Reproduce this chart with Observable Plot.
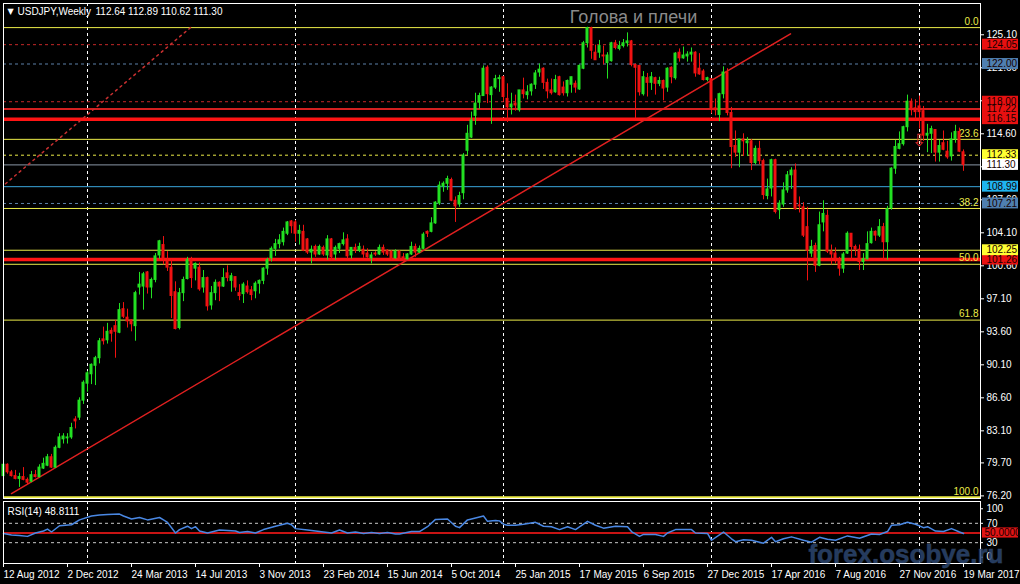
<!DOCTYPE html>
<html><head><meta charset="utf-8">
<script src="https://cdn.jsdelivr.net/npm/d3@7"></script>
<script src="https://cdn.jsdelivr.net/npm/@observablehq/plot@0.6"></script>
<style>
html,body{margin:0;padding:0;background:#000;}
#chart{width:1020px;height:584px;background:#000;overflow:hidden;}
#chart svg{display:block;}
</style></head><body><div id="chart"></div>
<script>
// ---------- DATA (weekly USDJPY bars, week 0 = 12 Aug 2012) ----------
const opens = [
 78.3,79.5,78.7,78.3,78.0,78.2,77.9,77.7,78.4,78.2,79.1,79.4,80.3,79.2,81.3,82.2,82.3,82.4,84.3,84.5,86.3,
 88.1,89.1,90.0,90.8,92.8,92.7,93.7,94.2,93.5,96.0,95.1,94.8,94.2,98.3,98.4,99.9,98.3,99.1,101.7,102.8,101.0,100.4,97.8,94.0,97.7,99.2,101.2,100.3,100.4,98.3,99.3,96.4,97.7,98.8,98.4,99.8,99.0,99.4,97.7,97.6,98.4,98.0,97.9,98.7,99.0,100.3,101.4,102.4,102.9,103.1,104.0,105.3,
 105.2,104.0,104.2,103.4,102.0,102.6,101.8,102.5,101.7,103.4,101.8,102.4,102.9,103.4,101.7,102.5,102.2,102.3,101.9,101.4,101.9,101.8,102.5,102.2,102.1,101.4,102.1,101.5,101.3,101.8,102.6,102.0,102.4,104.2,104.2,105.1,107.2,109.0,109.3,109.7,107.5,107.1,108.3,112.8,114.2,116.5,117.9,118.6,121.6,118.7,119.5,120.4,
 120.6,118.3,117.4,117.8,117.1,119.2,118.7,119.1,119.8,121.1,121.5,120.0,119.2,119.0,120.6,119.5,118.9,119.8,119.9,119.3,121.5,124.2,125.8,123.2,123.2,122.9,122.1,122.3,124.2,123.6,123.9,124.2,124.4,121.9,121.8,118.8,120.5,120.0,120.5,119.9,120.2,119.5,121.6,120.5,123.2,122.6,122.8,123.0,123.2,121.5,121.2,120.3,
 120.4,117.3,116.6,118.8,121.1,116.8,113.3,112.6,114.0,113.6,113.8,111.5,113.0,111.7,108.0,108.8,111.8,106.5,107.1,108.6,110.2,110.7,107.0,106.8,104.7,101.9,102.7,100.6,105.2,105.9,102.1,101.9,101.3,100.3,101.9,104.0,102.6,102.3,101.0,101.3,103.0,104.2,103.8,104.7,103.1,106.7,110.9,113.0,113.5,115.3,118.0,117.3,
 117.5,117.0,114.4,114.6,115.0,112.6,113.6,112.7,112.2,114.0,114.8,112.64
];
const highs = [
 79.6,79.6,78.9,78.9,78.6,79.2,78.1,78.8,78.9,79.5,80.2,80.6,80.6,81.5,82.8,82.8,82.8,83.9,84.6,86.6,88.4,
 89.4,90.2,91.0,92.9,94.1,94.5,94.0,94.8,96.6,96.7,96.0,94.9,97.9,99.9,99.9,100.0,99.3,101.9,103.3,103.7,102.1,101.2,98.9,98.2,99.4,101.5,101.5,100.9,100.9,100.1,99.4,98.4,99.1,98.9,100.3,100.6,99.8,99.4,98.6,98.8,99.0,98.4,98.9,99.1,100.4,101.4,102.6,103.4,103.9,104.6,105.3,105.4,
 105.4,104.9,104.9,103.5,102.7,102.8,102.8,102.7,103.8,103.5,102.7,103.0,104.1,103.9,102.5,102.9,103.0,102.7,102.4,102.0,102.1,102.8,102.8,102.3,102.2,102.3,102.2,101.9,101.9,103.1,102.9,102.7,104.1,104.3,105.7,107.4,109.5,109.5,110.1,109.9,107.9,108.4,112.5,115.5,116.9,118.9,118.9,121.8,121.8,119.6,120.8,120.8,
 120.7,119.9,118.9,118.7,119.2,120.5,119.7,119.9,121.3,122.0,121.6,120.4,120.4,120.8,120.7,120.1,120.3,120.6,120.2,121.9,124.4,125.9,125.9,124.0,124.5,123.9,123.2,124.3,124.5,124.4,124.6,125.3,124.5,122.0,121.8,121.2,121.0,121.1,120.6,120.6,120.3,121.6,121.7,123.2,123.6,123.8,123.3,123.7,123.3,123.1,121.4,120.6,
 120.4,118.3,118.9,121.7,121.5,117.4,114.9,114.0,114.6,114.2,114.0,113.3,113.8,111.9,109.8,111.9,111.9,107.5,109.4,110.6,111.0,111.4,107.9,107.3,106.8,103.3,103.0,106.3,107.5,106.5,102.8,102.5,101.5,102.0,104.2,104.0,102.8,102.8,101.9,104.2,104.6,104.3,105.5,105.1,106.9,111.0,113.9,114.8,115.4,118.7,118.3,118.2,
 118.6,117.5,115.6,115.4,115.0,113.9,114.9,113.8,114.7,115.5,115.2,112.89
];
const lows = [
 78.1,78.5,78.2,77.9,77.1,77.8,77.4,77.6,78.1,78.1,79.0,79.3,79.1,79.1,81.2,81.7,81.7,82.2,83.3,84.2,85.9,
 87.2,88.0,87.9,90.2,92.2,92.3,92.5,90.8,93.4,95.0,94.0,93.6,92.6,97.5,95.9,97.6,97.1,98.8,101.3,100.7,100.0,95.0,93.8,93.8,96.8,99.1,98.2,99.0,97.9,97.7,95.8,95.9,96.9,96.8,98.3,98.9,97.8,97.9,96.9,96.6,97.6,96.9,97.1,97.6,98.6,99.6,101.0,101.6,102.4,102.7,103.8,104.0,
 103.1,102.8,102.1,101.8,100.8,101.5,101.7,101.6,101.2,101.2,101.2,101.9,102.7,101.3,101.3,101.9,102.0,101.4,101.4,100.8,101.6,101.7,101.7,101.6,101.2,101.3,101.1,101.0,101.2,101.7,101.5,101.9,102.3,103.6,104.1,105.0,107.0,108.4,108.6,107.4,105.2,106.8,107.6,112.3,114.1,115.5,117.2,118.6,117.8,115.6,119.3,119.0,
 118.0,115.8,116.6,117.0,116.9,118.3,118.2,118.6,119.3,120.6,119.3,118.3,118.7,118.9,118.6,118.6,118.5,118.9,118.9,119.2,121.4,123.7,122.5,122.4,122.6,121.9,120.4,122.2,123.5,123.4,123.7,123.8,121.7,116.2,118.6,118.6,118.5,119.2,118.7,119.6,118.1,119.0,119.9,120.3,122.2,122.5,122.2,122.2,120.6,120.8,120.2,120.1,
 116.7,116.5,115.9,118.3,116.5,110.9,112.1,111.0,112.2,112.2,110.7,111.3,111.3,107.6,107.6,107.9,106.1,105.5,106.8,108.3,108.7,106.5,106.2,103.6,99.0,101.5,99.9,100.5,104.2,101.9,100.7,100.8,99.5,99.8,101.8,101.2,101.6,100.1,100.1,101.2,102.9,103.2,103.6,101.2,101.2,106.5,110.3,112.9,113.3,114.8,116.5,116.0,
 115.1,113.8,112.6,112.5,111.6,111.6,112.8,111.9,111.7,113.6,112.6,110.62
];
const closes = [
 79.5,78.7,78.3,78.0,78.2,77.9,77.6,78.4,78.2,79.2,79.6,80.3,79.2,81.3,82.4,82.5,82.4,83.4,84.1,86.3,88.2,
 89.2,90.1,90.8,92.6,92.6,93.6,93.4,93.6,95.9,95.2,94.7,94.4,97.7,98.6,99.7,98.3,99.1,101.6,103.2,101.4,100.4,97.4,93.9,97.7,99.1,101.2,99.3,100.8,98.1,99.3,96.3,97.7,98.8,98.4,99.3,99.3,99.5,98.3,97.4,98.6,97.8,97.5,98.7,99.0,100.3,101.2,102.4,102.9,103.3,104.2,105.2,104.8,
 104.0,104.3,102.2,102.0,102.3,101.8,102.6,101.8,103.4,101.5,102.5,102.9,103.3,101.6,102.5,102.2,102.6,101.8,101.5,101.7,101.8,102.5,102.0,101.8,101.4,102.1,101.3,101.3,101.8,102.6,102.0,102.4,103.9,104.0,105.1,107.3,109.1,109.3,109.8,107.5,106.9,108.0,112.3,114.6,116.0,117.8,118.6,121.5,118.8,119.5,120.4,120.5,
 118.5,117.4,117.7,117.6,119.2,118.8,119.0,119.8,121.0,121.4,120.0,119.1,118.9,120.3,118.7,118.9,120.2,120.6,119.5,121.8,124.2,125.8,123.4,122.4,123.9,122.8,122.9,124.2,123.7,123.9,124.2,124.4,121.9,121.6,119.0,120.6,120.0,120.6,119.9,120.2,119.4,121.5,120.6,123.1,122.6,122.9,123.0,123.2,121.0,120.9,120.3,120.5,
 117.2,117.1,118.8,121.1,116.8,113.2,112.6,114.0,113.8,113.8,111.5,113.0,111.7,108.1,108.7,111.8,106.3,107.2,108.6,110.2,110.7,106.6,106.9,103.8,102.2,102.6,100.6,104.9,106.1,102.1,101.8,101.3,100.3,101.8,104.0,102.6,102.3,101.0,101.3,102.9,104.2,103.8,104.7,103.1,106.6,110.9,113.2,113.5,115.3,118.0,117.1,116.9,
 116.9,114.4,114.6,115.1,112.6,113.3,112.9,112.1,114.0,114.8,112.7,111.30
];

// RSI(14) read at selected weeks
const rsiWeeks = [0,2,4,6,8,10,11,12,14,17,19,22,24,26,29,30,32,34,36,39,40,41,43,44,46,47,48,49,51,54,58,59,61,63,65,68,71,72,73,76,78,82,84,86,88,90,92,94,96,98,99,102,104,106,108,111,113,114,116,120,121,123,124,125,126,128,130,133,135,137,139,141,143,146,148,150,153,156,157,159,160,163,165,166,168,172,173,176,177,180,182,183,185,187,190,192,193,195,197,200,202,204,206,208,211,214,217,219,221,222,224,226,227,228,230,231,233,235,237,239,240];
const rsiValues = [49,46,45,43,50,54,58,52,65,67,77,85,87,88,89,85,79,82,77,82,77,72,50,57,64,59,63,54,50,56,54,51,53,50,57,64,70,67,59,56,54,50,56,50,52,49,51,49,51,48,48,53,53,63,78,79,64,61,77,85,74,76,75,68,66,66,68,72,64,63,57,63,57,74,66,60,64,63,53,43,47,47,43,50,57,57,50,49,35,52,38,32,36,35,29,41,32,38,42,35,31,41,37,35,44,39,48,47,53,66,67,72,70,68,61,63,54,53,59,52,48.8];

// x-axis ticks (week index) and their labels
const tickWeeks = [0,16,32,48,64,80,96,112,128,144,160,176,192,208,224,240];
const tickLabels = ["12 Aug 2012","2 Dec 2012","24 Mar 2013","14 Jul 2013","3 Nov 2013","23 Feb 2014","15 Jun 2014","5 Oct 2014","25 Jan 2015","17 May 2015","6 Sep 2015","27 Dec 2015","17 Apr 2016","7 Aug 2016","27 Nov 2016","19 Mar 2017"];
const yearWeeks = [21,73,125,177,229];

// price axis ticks
const priceTicks = [76.20,79.70,83.10,86.60,90.10,93.60,97.10,100.60,104.10,107.60,111.10,114.60,118.10,121.60,125.10];
const rsiTicks = [0,30,70,100];

// Fibonacci levels
const fibPrices = [125.86,114.01,106.68,100.76,94.84,76.05];
const fibLabels = ["0.0","23.6","38.2","50.0","61.8","100.0"];

// horizontal level lines
const redDashedPrices = [124.05,118.00];
const steelDashedPrices = [122.00,107.21];
const yellowDashedPrices = [112.33];
const yellowSolidPrices = [102.25];
const redThinPrices = [117.22];
const redThickPrices = [116.15,101.26];
const greyPrices = [111.30];
const bluePrices = [108.99];

// drawn trend lines (week, price)
const trendWeeks = [2,196.75];
const trendPrices = [76.45,125.2];
const rayWeeks = [0.5,46.75];
const rayPrices = [109.3,125.86];
const arrowWeek = 228.9, arrowPrice = 113.85;

// price labels on the right scale
const redBoxes = [124.05,118.00,117.22,116.15,101.26];
const steelBoxes = [122.00,107.21];
const yellowBoxes = [112.33,102.25];
const whiteBoxes = [111.30];
const blueBoxes = [108.99];

// ---------- STYLES ----------
const UP = "#22e022", DOWN = "#f01212", YEL = "#ecec48";
const FONT = "'Liberation Sans', Arial, sans-serif";
const candles = opens.map((o,i)=>({i, o, h: highs[i], l: lows[i], c: closes[i], col: closes[i] >= o ? UP : DOWN}));
const rsiRows = rsiWeeks.map((w,i)=>({w, v: rsiValues[i]}));
const trendRows = trendWeeks.map((w,i)=>({w, p: trendPrices[i]}));
const rayRows = rayWeeks.map((w,i)=>({w, p: rayPrices[i]}));
const boxRows = [
  ...redBoxes.map(p=>({p, bg:"#e81010"})),
  ...steelBoxes.map(p=>({p, bg:"#4f7fb0"})),
  ...yellowBoxes.map(p=>({p, bg:"#ffff33"})),
  ...whiteBoxes.map(p=>({p, bg:"#ffffff"})),
  ...blueBoxes.map(p=>({p, bg:"#1fb4f0"}))
];
const labelMap = new Map(tickWeeks.map((w,i)=>[w, tickLabels[i]]));
const XMAX = 244.25;                 // right edge of plotting area (x=980)
const BX1 = 244.75, BX2 = 253.75;    // right-scale label boxes (x=982..1018)
const dash = "3,3";

const main = Plot.plot({
  width: 1020, height: 500,
  marginTop: 3, marginBottom: 2, marginLeft: 3, marginRight: 40,
  style: {background: "#000", color: "#fff", fontFamily: FONT, fontSize: "9px", overflow: "visible"},
  x: {domain: [0, XMAX], axis: null},
  y: {domain: [75.924, 128.416], axis: null},
  marks: [
    Plot.ruleX(yearWeeks, {stroke: "#fff", strokeDasharray: dash}),
    Plot.ruleY(fibPrices.slice(0,5), {stroke: YEL}),
    Plot.ruleY(fibPrices.slice(5), {stroke: YEL, strokeWidth: 2}),
    Plot.ruleY(yellowSolidPrices, {stroke: YEL}),
    Plot.ruleY(yellowDashedPrices, {stroke: YEL, strokeDasharray: dash}),
    Plot.ruleY(redDashedPrices, {stroke: "#c42828", strokeDasharray: dash}),
    Plot.ruleY(steelDashedPrices, {stroke: "#5c80a8", strokeDasharray: dash}),
    Plot.ruleY(greyPrices, {stroke: "#8a97a6"}),
    Plot.ruleY(bluePrices, {stroke: "#3aa6dc"}),
    Plot.ruleY(redThinPrices, {stroke: "#d42020", strokeWidth: 2}),
    Plot.ruleY(redThickPrices, {stroke: "#ff1414", strokeWidth: 3.5}),
    Plot.text(fibPrices, {y: d=>d, text: (d,i)=>fibLabels[i], frameAnchor: "right", textAnchor: "end", dx: -2, dy: -6, fill: YEL, fontSize: 10}),
    Plot.line(rayRows, {x: "w", y: "p", stroke: "#c83030", strokeDasharray: "2,4"}),
    Plot.line(trendRows, {x: "w", y: "p", stroke: "#e02020"}),
    Plot.ruleX(candles, {x: "i", y1: "l", y2: "h", stroke: "col"}),
    Plot.rect(candles, {x1: d=>d.i-0.375, x2: d=>d.i+0.375, y1: "o", y2: "c", fill: "col", insetTop: -0.5, insetBottom: -0.5}),
    Plot.text([{w: arrowWeek, p: arrowPrice}], {x: "w", y: "p", text: ()=>"⇩", fill: "#e02a2a", fontSize: 17, fontFamily: "DejaVu Sans"}),
    Plot.axisY(priceTicks, {anchor: "right", label: null, tickSize: 3, tickPadding: 3, tickFormat: d=>d.toFixed(2), color: "#fff", fontSize: 10}),
    Plot.rect(boxRows, {x1: ()=>BX1, x2: ()=>BX2, y1: d=>d.p-0.58, y2: d=>d.p+0.58, fill: "bg"}),
    Plot.text(boxRows, {y: "p", text: d=>d.p.toFixed(2), frameAnchor: "right", textAnchor: "start", dx: 6, fill: "#160000", fontSize: 10}),
    Plot.frame({stroke: "#fff"}),
    Plot.text(["▼"], {frameAnchor: "top-left", dx: 4, dy: 5, fill: "#fff", fontSize: 8, fontFamily: "DejaVu Sans"}),
    Plot.text(["USDJPY,Weekly"], {frameAnchor: "top-left", dx: 14, dy: 4, fill: "#fff", fontSize: 10}),
    Plot.text(["112.64 112.89 110.62 111.30"], {frameAnchor: "top-left", dx: 92, dy: 4, fill: "#fff", fontSize: 10}),
    Plot.text(["Голова и плечи"], {frameAnchor: "top", dx: 141.5, dy: 7, fill: "#8a8a8a", fontSize: 18})
  ]
});

const rsi = Plot.plot({
  width: 1020, height: 84,
  marginTop: 1, marginBottom: 21, marginLeft: 3, marginRight: 40,
  style: {background: "#000", color: "#fff", fontFamily: FONT, fontSize: "9px", overflow: "visible"},
  x: {domain: [0, XMAX], axis: null},
  y: {domain: [-13, 115], axis: null},
  marks: [
    Plot.ruleX(yearWeeks, {stroke: "#fff", strokeDasharray: dash}),
    Plot.ruleY([70,30], {stroke: "#c8c8c8", strokeDasharray: dash}),
    Plot.ruleY([50], {stroke: "#c81414", strokeWidth: 2}),
    Plot.line(rsiRows, {x: "w", y: "v", stroke: "#4a88e4"}),
    Plot.ruleY(rsiTicks, {x1: ()=>XMAX, x2: ()=>XMAX + 0.75, stroke: "#fff"}),
    Plot.text(rsiTicks, {y: d=>d, text: d=>String(d), frameAnchor: "right", textAnchor: "start", lineAnchor: "middle", dx: 6, fill: "#fff", fontSize: 10}),
    Plot.rect([50], {x1: ()=>BX1, x2: ()=>BX2, y1: d=>d-10.5, y2: d=>d+10.5, fill: "#e01414"}),
    Plot.text([50], {y: d=>d, text: ()=>"50.0000", frameAnchor: "right", textAnchor: "start", dx: 4, fill: "#220000", fontSize: 10}),
    Plot.axisX(tickWeeks, {anchor: "bottom", label: null, tickSize: 4, tickPadding: 3, tickFormat: d=>labelMap.get(d), textAnchor: "start", color: "#fff", fontSize: 10}),
    Plot.frame({stroke: "#fff"}),
    Plot.text(["RSI(14) 48.8111"], {frameAnchor: "top-left", dx: 4, dy: 6, fill: "#fff", fontSize: 10}),
    Plot.text(["forex.osobye.ru"], {frameAnchor: "bottom-right", lineAnchor: "middle", textAnchor: "end", dx: 23, dy: -9.3, fill: "#2c4670", fillOpacity: 0.85, stroke: "#5a7aa6", strokeOpacity: 0.3, strokeWidth: 1, fontSize: 26, fontWeight: "bold"})
  ]
});

document.getElementById("chart").append(main, rsi);
</script>
</body></html>
